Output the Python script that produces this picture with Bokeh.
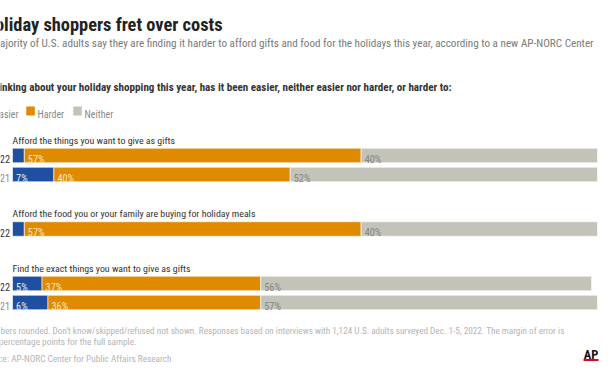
from bokeh.plotting import figure
from bokeh.models import Range1d, ColumnDataSource
from bokeh.core.properties import value
from bokeh.embed import file_html
from bokeh.resources import INLINE

# ---------------- data ----------------
title = "Holiday shoppers fret over costs"
subtitle = ("A majority of U.S. adults say they are finding it harder to afford gifts and food "
            "for the holidays this year, according to a new AP-NORC Center")
question = ("Thinking about your holiday shopping this year, has it been easier, "
            "neither easier nor harder, or harder to:")
series = ["Easier", "Harder", "Neither"]
groups = ["Afford the things you want to give as gifts",
          "Afford the food you or your family are buying for holiday meals",
          "Find the exact things you want to give as gifts"]
row_group = [0, 0, 1, 2, 2]
row_year = ["2022", "2021", "2022", "2022", "2021"]
easier = [2, 7, 2, 5, 6]
harder = [57, 40, 57, 37, 36]
neither = [40, 52, 40, 56, 57]
footnote1 = ("Numbers rounded. Don't know/skipped/refused not shown. Responses based on interviews "
             "with 1,124 U.S. adults surveyed Dec. 1-5, 2022. The margin of error is")
footnote2 = "\u00b14.0 percentage points for the full sample."
source = "Source: AP-NORC Center for Public Affairs Research"

# ---------------- style ----------------
COLORS = ["#1f4fa0", "#e08a00", "#c4c3ba"]
LABEL_COLORS = ["#e8ecf5", "#fbe6c0", "#85857e"]
FONT = "Roboto Condensed, DejaVu Sans Condensed, Roboto"
W, H = 602, 366

bar_x0 = 12            # pixel where 0% sits
bar_x99 = 597          # pixel where 99% sits
s = (bar_x99 - bar_x0) / 99.0

p = figure(width=W, height=H, output_backend="svg", toolbar_location=None,
           x_range=Range1d(-bar_x0 / s, (W - bar_x0) / s),
           y_range=Range1d(H, 0), min_border=0)
p.extra_x_ranges = {"px": Range1d(0, W)}
p.xaxis.visible = False
p.yaxis.visible = False
p.grid.visible = False
p.outline_line_color = None
p.background_fill_color = "white"
p.border_fill_color = "white"


def txt(x, y, t, size, color, style="normal", align="left", font=FONT):
    src = ColumnDataSource(dict(x=[x], y=[y], t=[t]))
    p.text(x="x", y="y", text="t", source=src, x_range_name="px",
           text_font=value(font), text_font_size=f"{size}px",
           text_font_style=style, text_color=color, text_align=align,
           text_baseline="alphabetic")


# header texts (left parts are cropped off in the reference; anchored at their right ends)
txt(222, 24, title, 18.4, "#222222", "bold", align="right")
txt(593, 42.5, subtitle, 11.15, "#7a7a7a", align="right")
txt(451, 87, question, 11.1, "#333333", "bold", align="right")

# legend
leg_sq = [-21, 26, 73]
leg_tx = [18, 37, 84]
leg_al = ["right", "left", "left"]
for c, sx, tx, al, name in zip(COLORS, leg_sq, leg_tx, leg_al, series):
    p.rect(x=[sx + 4], y=[110.5], width=8.5, height=9, x_range_name="px",
           fill_color=c, line_color=None)
    txt(tx, 114, name, 10, "#8a8a8a", align=al)

# layout of rows
rows_y = []
label_y = []
y = 139.5
prev = None
for g in row_group:
    if g != prev:
        if prev is not None:
            y = rows_y[-1] + 39
        label_y.append(y)
        cur = y + 15.5
        prev = g
    else:
        cur = rows_y[-1] + 19
    rows_y.append(cur)

for gy, gname in zip(label_y, groups):
    txt(12, gy, gname, 9.9, "#333333")

ys = rows_y
lefts = [[0] * 5, easier, [e + h for e, h in zip(easier, harder)]]
vals = [easier, harder, neither]
for k in range(3):
    src = ColumnDataSource(dict(y=ys, left=lefts[k],
                                right=[l + v for l, v in zip(lefts[k], vals[k])]))
    p.hbar(y="y", left="left", right="right", height=14.5, source=src,
           fill_color=COLORS[k], line_color="white", line_width=0.6)
    lx, ly, lt = [], [], []
    for i in range(5):
        if vals[k][i] >= 4:
            lx.append(lefts[k][i] + 0.6)
            ly.append(ys[i] + 3.8)
            lt.append(f"{vals[k][i]}%")
    lsrc = ColumnDataSource(dict(x=lx, y=ly, t=lt))
    p.text(x="x", y="y", text="t", source=lsrc, text_font=value(FONT),
           text_font_size="10.3px", text_color=LABEL_COLORS[k],
           text_baseline="alphabetic")

# year labels
for yy, yr in zip(ys, row_year):
    txt(9.5, yy + 3.8, yr, 10.3, "#333333" if yr == "2022" else "#888888", align="right")

# footnotes
txt(564, 329.5, footnote1, 9.2, "#b5b5b5", align="right")
txt(136, 340.5, footnote2, 9.3, "#b5b5b5", align="right")
txt(171, 357.5, source, 9.25, "#b5b5b5", align="right")

# AP logo
txt(590.5, 354, "AP", 12.5, "#111111", "bold", align="center")
p.segment(x0=[583], y0=[359.5], x1=[598], y1=[359.5],
          x_range_name="px", line_color="#e4002b", line_width=2)

open("out.html", "w").write(file_html(p, INLINE))
